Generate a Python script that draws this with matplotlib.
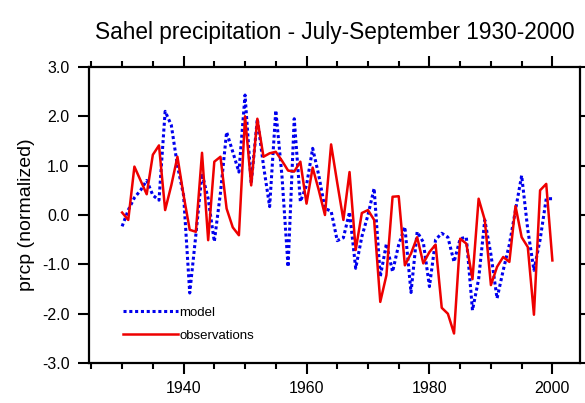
import numpy as np
import matplotlib
matplotlib.use("Agg")
import matplotlib.pyplot as plt
from matplotlib.ticker import MultipleLocator, FormatStrFormatter

plt.rcParams['font.family'] = ['Liberation Sans', 'DejaVu Sans']
plt.rcParams['axes.unicode_minus'] = False

# ------------------ DATA ------------------
years = np.arange(1930, 2001)

model = [-0.23, 0.10, 0.35, 0.50, 0.70, 0.40, 0.30, 2.10, 1.82, 1.00,
         0.40, -1.58, -0.40, 0.84, 0.33, -0.54, 0.45, 1.68, 1.28, 0.87,
         2.43, 0.64, 1.95, 1.00, 0.17, 2.12, 0.80, -1.05, 1.95, 0.27,
         0.60, 1.35, 0.80, 0.13, 0.08, -0.52, -0.46, 0.06, -1.08, -0.44,
         0.00, 0.54, -1.25, -0.58, -1.15, -0.60, -0.24, -1.57, -0.34, -0.55,
         -1.45, -0.50, -0.37, -0.45, -0.95, -0.48, -0.45, -1.93, -1.30, -0.10,
         -0.80, -1.69, -1.12, -0.60, 0.10, 0.80, -0.30, -1.12, -0.50, 0.33,
         0.33]

observations = [0.05, -0.10, 0.98, 0.70, 0.42, 1.22, 1.41, 0.10, 0.60, 1.18,
                0.40, -0.30, -0.34, 1.26, -0.51, 1.08, 1.18, 0.13, -0.25, -0.41,
                2.00, 0.60, 1.95, 1.18, 1.25, 1.28, 1.10, 0.90, 0.88, 1.08,
                0.23, 0.96, 0.50, 0.00, 1.43, 0.65, -0.10, 0.87, -0.71, 0.04,
                0.10, -0.10, -1.76, -1.22, 0.37, 0.38, -1.02, -0.78, -0.45, -0.98,
                -0.75, -0.60, -1.88, -2.00, -2.40, -0.48, -0.58, -1.30, 0.33, -0.10,
                -1.42, -1.05, -0.85, -0.95, 0.18, -0.45, -0.65, -2.02, 0.50, 0.63,
                -0.92]

# ------------------ PLOT ------------------
fig = plt.figure(figsize=(5.85, 4.03), dpi=100)
ax = fig.add_axes([0.152, 0.099, 0.839, 0.735])

ax.plot(years, model, color='#0000ee', linestyle=(0, (1, 0.9)), linewidth=2.2,
        label='model')
ax.plot(years, observations, color='#ee0000', linestyle='-', linewidth=1.8,
        label='observations')

ax.set_xlim(1924.6, 2004.45)
ax.set_ylim(-3.0, 3.0)

ax.xaxis.set_major_locator(MultipleLocator(20))
ax.xaxis.set_minor_locator(MultipleLocator(5))
ax.yaxis.set_major_locator(MultipleLocator(1.0))
ax.yaxis.set_major_formatter(FormatStrFormatter('%.1f'))

ax.tick_params(which='both', direction='out', top=True, right=True,
               width=1.5, labelsize=11.5)
ax.tick_params(which='major', length=8, pad=6)
ax.tick_params(axis='x', which='major', pad=5)
ax.tick_params(which='minor', length=4.5)
for sp in ax.spines.values():
    sp.set_linewidth(1.6)

ax.set_ylabel('prcp (normalized)', fontsize=14, labelpad=5)
ax.set_title('Sahel precipitation - July-September 1930-2000', fontsize=16.3,
             pad=20)

ax.legend(loc='lower left', bbox_to_anchor=(0.055, 0.05), frameon=False,
          fontsize=9.5, handlelength=4.2, handletextpad=0.1, borderpad=0,
          labelspacing=0.8)

fig.savefig('out.png', dpi=100)
